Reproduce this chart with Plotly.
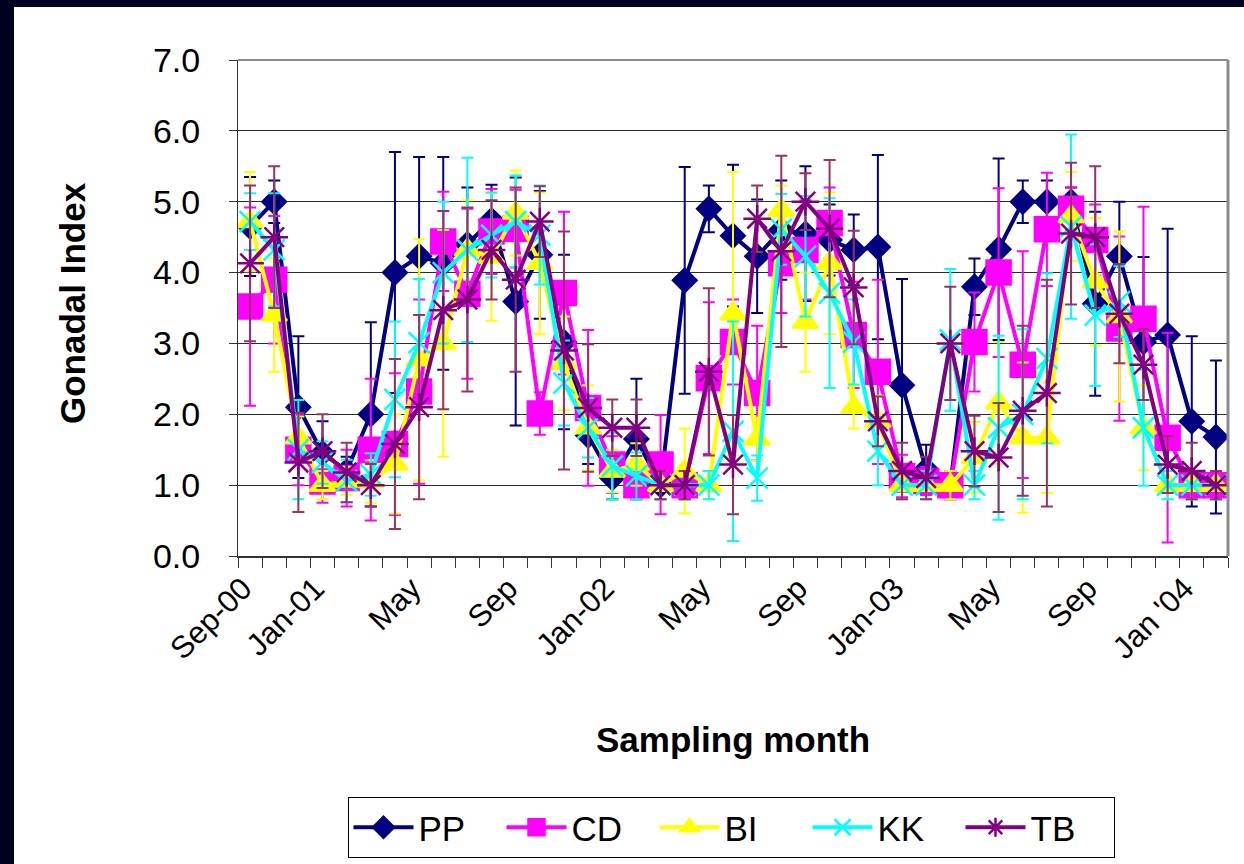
import plotly.graph_objects as go

# Sampling months (Oct-00 was not sampled)
months = ["Sep-00", "Nov-00", "Dec-00", "Jan-01", "Feb-01", "Mar-01", "Apr-01", "May-01",
          "Jun-01", "Jul-01", "Aug-01", "Sep-01", "Oct-01", "Nov-01", "Dec-01", "Jan-02",
          "Feb-02", "Mar-02", "Apr-02", "May-02", "Jun-02", "Jul-02", "Aug-02", "Sep-02",
          "Oct-02", "Nov-02", "Dec-02", "Jan-03", "Feb-03", "Mar-03", "Apr-03", "May-03",
          "Jun-03", "Jul-03", "Aug-03", "Sep-03", "Oct-03", "Nov-03", "Dec-03", "Jan-04",
          "Feb-04"]

# Axis labels shown under selected months
tick_labels = {"Sep-00": "Sep-00", "Jan-01": "Jan-01", "May-01": "May", "Sep-01": "Sep",
               "Jan-02": "Jan-02", "May-02": "May", "Sep-02": "Sep", "Jan-03": "Jan-03",
               "May-03": "May", "Sep-03": "Sep", "Jan-04": "Jan '04"}

pp = [4.65, 5.0, 2.1, 1.45, 1.2, 2.0, 4.0, 4.23, 4.13, 4.4, 4.74, 3.59, 4.25, 3.02, 1.7, 1.1,
      1.65, 1.0, 3.89, 4.9, 4.52, 4.23, 4.6, 4.55, 4.46, 4.32, 4.36, 2.41, 1.22, 1.0, 3.8, 4.33,
      5.0, 5.0, 5.0, 3.56, 4.23, 3.02, 3.12, 1.9, 1.68]
pp_err = [0.7, 0.3, 1.0, 0.45, 0.2, 1.3, 1.7, 1.4, 1.5, 0.8, 0.5, 1.75, 0.9, 1.23, 0.4, 0.3,
          0.85, 0.2, 1.6, 0.33, 1.0, 0.8, 0.7, 0.95, 0.5, 0.5, 1.3, 1.5, 0.35, 0.2, 0.4, 1.28,
          0.3, 0.3, 0.2, 1.3, 0.77, 1.2, 1.5, 1.2, 1.08]

cd = [3.52, 3.9, 1.5, 1.05, 1.1, 1.5, 1.58, 2.32, 4.44, 3.7, 4.58, 4.62, 2.01, 3.71, 2.09, 1.29,
      1.0, 1.29, 1.0, 2.51, 3.02, 2.3, 4.13, 4.32, 4.7, 3.12, 2.6, 1.13, 1.06, 1.0, 3.02, 4.0,
      2.7, 4.61, 4.9, 4.46, 3.21, 3.35, 1.67, 1.0, 1.0]
cd_err = [1.4, 0.9, 0.5, 0.3, 0.4, 1.0, 1.0, 1.3, 0.7, 1.2, 0.6, 0.55, 0.3, 1.15, 1.1, 0.4,
          0.2, 0.7, 0.2, 1.07, 0.6, 0.95, 0.7, 0.7, 0.5, 0.75, 1.3, 0.3, 0.2, 0.2, 0.7, 1.19,
          1.6, 0.8, 0.3, 0.5, 1.3, 1.58, 1.48, 0.2, 0.2]

bi = [4.72, 3.4, 1.67, 1.0, 1.06, 1.05, 1.3, 2.77, 3.0, 4.32, 4.22, 4.84, 4.13, 2.72, 1.81, 1.2,
      1.29, 1.0, 1.2, 1.0, 3.42, 1.65, 4.88, 3.3, 4.13, 2.1, 1.9, 1.0, 1.0, 1.0, 1.39, 2.16,
      1.67, 1.67, 4.79, 3.87, 3.38, 1.81, 1.0, 1.0, 1.0]
bi_err = [0.7, 0.8, 0.3, 0.2, 0.2, 0.3, 0.7, 1.7, 1.6, 0.7, 0.9, 0.6, 1.0, 0.66, 0.6, 0.3,
          0.3, 0.2, 0.6, 0.2, 2.0, 0.3, 0.35, 0.7, 1.0, 0.3, 0.36, 0.2, 0.2, 0.2, 0.5, 0.86,
          1.06, 0.78, 0.63, 0.9, 1.2, 0.6, 0.2, 0.2, 0.2]

kk = [4.72, 4.32, 1.5, 1.32, 1.06, 1.15, 2.21, 3.01, 4.0, 4.32, 4.53, 4.72, 4.53, 2.44, 1.81,
      1.27, 1.13, 1.0, 1.0, 1.0, 1.76, 1.1, 4.61, 4.23, 3.71, 3.02, 1.48, 1.0, 1.0, 3.05, 1.0,
      1.81, 2.0, 2.79, 4.65, 3.4, 3.59, 1.81, 1.0, 1.0, 1.0]
kk_err = [0.4, 0.8, 0.7, 0.3, 0.3, 0.3, 1.1, 0.9, 1.0, 1.3, 0.6, 0.65, 0.7, 0.6, 0.42, 0.47,
          0.33, 0.2, 0.2, 0.2, 1.55, 0.32, 0.5, 0.85, 1.34, 0.6, 0.48, 0.2, 0.2, 1.0, 0.2, 1.3,
          1.2, 1.2, 1.3, 1.0, 0.5, 0.82, 0.2, 0.2, 0.2]

tb = [4.13, 4.5, 1.32, 1.48, 1.18, 1.0, 1.58, 2.1, 3.47, 3.62, 4.32, 3.9, 4.72, 2.9, 2.09, 1.81,
      1.81, 1.0, 1.0, 2.6, 1.29, 4.76, 4.3, 5.0, 4.62, 3.79, 1.9, 1.2, 1.1, 3.0, 1.48, 1.39,
      2.05, 2.3, 4.55, 4.5, 3.42, 2.7, 1.29, 1.2, 1.0]
tb_err = [1.1, 1.0, 0.7, 0.52, 0.42, 0.3, 1.2, 1.3, 1.4, 1.3, 0.7, 1.3, 0.5, 1.68, 0.9, 0.4,
          0.4, 0.2, 0.2, 1.18, 0.7, 0.47, 1.35, 0.4, 0.97, 0.8, 0.35, 0.4, 0.3, 0.8, 0.5, 0.77,
          1.2, 1.6, 1.0, 1.0, 0.7, 0.5, 0.4, 0.4, 0.2]

FONT = "Liberation Sans, Arial, sans-serif"
x = list(range(len(months)))

series = [
    ("PP", pp, pp_err, "#000080", "#000080", dict(symbol="diamond", size=18)),
    ("CD", cd, cd_err, "#FF00FF", "#FF00FF", dict(symbol="square", size=24)),
    ("BI", bi, bi_err, "#FFFF00", "#FFFF00", dict(symbol="triangle-up", size=22)),
    ("KK", kk, kk_err, "#00FFFF", "#00FFFF", dict(symbol="x-thin-open", size=21)),
    ("TB", tb, tb_err, "#800080", "#993366", dict(symbol="asterisk-open", size=23)),
]

fig = go.Figure()
for name, vals, errs, col, ecol, mk in series:
    marker = dict(color=col, line=dict(color=col, width=2.5), **mk)
    fig.add_trace(go.Scatter(
        x=x, y=vals, name=name, mode="lines+markers",
        line=dict(color=col, width=4),
        marker=marker,
        error_y=dict(type="data", array=errs, visible=True, color=ecol,
                     thickness=2, width=6),
    ))

# label anchors sit a little left of the category centre, as the rotated text is set
label_shift = -0.3
tickvals = [i + label_shift for i, m in enumerate(months) if m in tick_labels]
ticktext = [tick_labels[m] for m in months if m in tick_labels]

L, R, T, B = 238, 16, 60, 308
W, H = 1244, 864
pw, ph = W - L - R, H - T - B


def px_x(px):
    return (px - L) / pw


def px_y(py):
    return (H - B - py) / ph


fig.update_layout(
    width=W, height=H,
    margin=dict(l=L, r=R, t=T, b=B, pad=0, autoexpand=False),
    paper_bgcolor="white", plot_bgcolor="white",
    font=dict(family=FONT, color="black"),
    showlegend=True,
    legend=dict(
        orientation="h", x=px_x(731), y=px_y(797), xanchor="center", yanchor="top",
        bordercolor="black", borderwidth=1, bgcolor="white",
        font=dict(size=35, family=FONT), entrywidth=78, itemwidth=60,
    ),
    xaxis=dict(
        range=[-0.5, len(months) - 0.5], tickmode="array", tickvals=tickvals,
        ticktext=ticktext, tickangle=-45, tickfont=dict(size=31, family=FONT),
        ticks="", automargin=False,
        minor=dict(tickmode="array", tickvals=[i - 0.5 for i in range(len(months) + 1)],
                   ticks="outside", ticklen=10, tickcolor="#333333", tickwidth=1,
                   showgrid=False),
        showgrid=False, zeroline=False, showline=True, linecolor="#333333", linewidth=2,
    ),
    yaxis=dict(
        range=[0, 7], dtick=1, tickformat=".1f", tickfont=dict(size=34, family=FONT),
        ticks="outside", ticklen=8, tickcolor="#333333", ticklabelstandoff=22,
        automargin=False,
        showgrid=True, gridcolor="#2b2b2b", gridwidth=1, zeroline=False,
        showline=True, linecolor="#333333", linewidth=1,
    ),
    annotations=[
        dict(text="<b>Sampling month</b>", xref="paper", yref="paper",
             x=px_x(733), y=px_y(739), showarrow=False, xanchor="center", yanchor="middle",
             font=dict(size=35, family=FONT)),
        dict(text="<b>Gonadal Index</b>", xref="paper", yref="paper",
             x=px_x(72), y=px_y(303), showarrow=False, xanchor="center", yanchor="middle",
             textangle=-90, font=dict(size=35, family=FONT)),
    ],
    shapes=[
        # plot frame on top and right
        dict(type="line", xref="paper", yref="paper", x0=0, x1=1, y0=1, y1=1,
             line=dict(color="#8c8c8c", width=2)),
        dict(type="line", xref="paper", yref="paper", x0=1, x1=1, y0=0, y1=1,
             line=dict(color="#8c8c8c", width=3)),
        # dark slide border
        dict(type="rect", xref="paper", yref="paper", x0=px_x(0), x1=px_x(14),
             y0=px_y(H), y1=px_y(0), fillcolor="#00001f", line=dict(width=0), layer="below"),
        dict(type="rect", xref="paper", yref="paper", x0=px_x(0), x1=px_x(W),
             y0=px_y(7), y1=px_y(0), fillcolor="#00001f", line=dict(width=0), layer="below"),
    ],
)

fig.write_html("out.html")
